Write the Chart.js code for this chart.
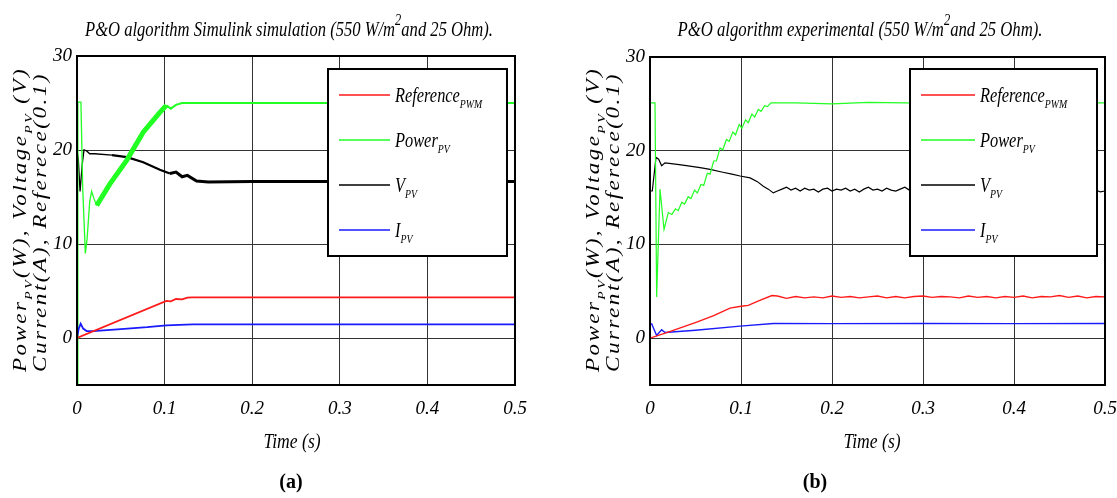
<!DOCTYPE html>
<html><head><meta charset="utf-8">
<script src="https://cdn.jsdelivr.net/npm/chart.js@4.4.1/dist/chart.umd.min.js"></script>
<style>
html,body{margin:0;padding:0;background:#fff;}
#wrap{position:relative;width:1117px;height:498px;overflow:hidden;background:#fff}
.pane{position:absolute;top:0;height:498px}
canvas{display:block}
</style></head><body>
<div id="wrap">
<div class="pane" style="left:0;width:558px"><canvas id="ca" width="558" height="498"></canvas></div>
<div class="pane" style="left:558px;width:559px"><canvas id="cb" width="559" height="498"></canvas></div>
</div>
<script>
// ---------- axis ticks ----------
const yTickValues = [0, 10, 20, 30];
const xTickStep = 0.1;

// ---------- (a) Simulink simulation ----------
const simRefT = [0, 0.102, 0.107, 0.113, 0.12, 0.126, 0.132, 0.5];
const simRefV = [0, 3.95, 3.9, 4.15, 4.1, 4.3, 4.33, 4.33];
const simPowT = [0, 0.001, 0.0045, 0.0065, 0.0095, 0.0115, 0.0145, 0.0167, 0.0195, 0.0225, 0.0376, 0.0567, 0.0756, 0.0946, 0.102, 0.107, 0.113, 0.12, 0.13, 0.2, 0.3, 0.4, 0.5];
const simPowV = [-5, 25.1, 25.1, 16.0, 9.0, 10.5, 14.5, 15.6, 14.8, 14.1, 16.4, 18.9, 21.9, 24.0, 24.75, 24.4, 24.8, 25.0, 25.0, 25.0, 25.0, 25.0, 25.0];
const simVolT = [0, 0.0015, 0.0035, 0.006, 0.008, 0.011, 0.0145, 0.02, 0.04, 0.057, 0.0756, 0.0946, 0.106, 0.113, 0.12, 0.126, 0.1365, 0.15, 0.2, 0.3, 0.4, 0.5];
const simVolV = [20, 19.0, 15.6, 18.5, 20.0, 19.9, 19.6, 19.6, 19.45, 19.25, 18.7, 17.9, 17.5, 17.65, 17.15, 17.3, 16.7, 16.6, 16.65, 16.65, 16.65, 16.65];
const simCurT = [0, 0.002, 0.0042, 0.007, 0.011, 0.0186, 0.05, 0.08, 0.102, 0.132, 0.5];
const simCurV = [0, 1.0, 1.53, 1.0, 0.74, 0.74, 0.95, 1.15, 1.35, 1.46, 1.46];

// ---------- (b) experimental ----------
const expRefT = [0, 0.02, 0.0513, 0.07, 0.0879, 0.1, 0.108, 0.12, 0.134, 0.14, 0.15, 0.16, 0.17, 0.18, 0.19, 0.2, 0.21, 0.22, 0.23, 0.24, 0.25, 0.26, 0.27, 0.28, 0.29, 0.3, 0.31, 0.32, 0.33, 0.34, 0.35, 0.36, 0.37, 0.38, 0.39, 0.4, 0.41, 0.42, 0.43, 0.44, 0.45, 0.46, 0.47, 0.48, 0.49, 0.5];
const expRefV = [0, 0.65, 1.7, 2.4, 3.2, 3.4, 3.5, 4.0, 4.55, 4.5, 4.25, 4.45, 4.3, 4.4, 4.3, 4.5, 4.35, 4.45, 4.3, 4.4, 4.5, 4.3, 4.45, 4.3, 4.45, 4.5, 4.35, 4.45, 4.4, 4.3, 4.5, 4.35, 4.45, 4.3, 4.45, 4.35, 4.5, 4.3, 4.45, 4.4, 4.55, 4.35, 4.5, 4.3, 4.45, 4.4];
const expPowT = [0, 0.0055, 0.0073, 0.011, 0.0154, 0.0201, 0.024, 0.028, 0.031, 0.035, 0.038, 0.042, 0.045, 0.049, 0.052, 0.056, 0.059, 0.063, 0.066, 0.070, 0.073, 0.077, 0.080, 0.084, 0.087, 0.091, 0.094, 0.098, 0.101, 0.105, 0.108, 0.112, 0.115, 0.119, 0.122, 0.126, 0.129, 0.133, 0.16, 0.2, 0.24, 0.28, 0.32, 0.36, 0.4, 0.44, 0.48, 0.5];
const expPowV = [25.1, 25.1, 4.4, 15.9, 11.6, 13.4, 13.2, 13.8, 13.6, 14.5, 14.3, 15.1, 14.9, 15.8, 15.5, 16.4, 16.3, 17.6, 17.5, 18.9, 18.9, 20.3, 20.1, 21.2, 21.0, 22.0, 21.7, 22.8, 22.4, 23.3, 23.0, 23.9, 23.6, 24.4, 24.2, 24.8, 24.7, 25.1, 25.1, 25.0, 25.15, 25.1, 25.05, 25.15, 25.1, 25.0, 25.1, 25.1];
const expVolT = [0, 0.0025, 0.0066, 0.0095, 0.0128, 0.0165, 0.03, 0.04, 0.055, 0.066, 0.08, 0.09, 0.099, 0.11, 0.118, 0.1245, 0.13, 0.1355, 0.14, 0.145, 0.15, 0.155, 0.16, 0.165, 0.17, 0.175, 0.18, 0.185, 0.19, 0.195, 0.2, 0.205, 0.21, 0.215, 0.22, 0.225, 0.23, 0.235, 0.24, 0.245, 0.25, 0.255, 0.26, 0.265, 0.27, 0.275, 0.28, 0.285, 0.29, 0.295, 0.3, 0.305, 0.31, 0.315, 0.32, 0.325, 0.33, 0.335, 0.34, 0.345, 0.35, 0.355, 0.36, 0.365, 0.37, 0.375, 0.38, 0.385, 0.39, 0.395, 0.4, 0.405, 0.41, 0.415, 0.42, 0.425, 0.43, 0.435, 0.44, 0.445, 0.45, 0.455, 0.46, 0.465, 0.47, 0.475, 0.48, 0.485, 0.49, 0.495, 0.5];
const expVolV = [15.7, 15.7, 19.3, 19.1, 18.4, 18.7, 18.55, 18.4, 18.2, 18.0, 17.7, 17.5, 17.3, 17.1, 16.7, 16.2, 15.9, 15.5, 15.7, 15.9, 16.1, 15.8, 16.0, 15.7, 16.0, 15.8, 15.9, 15.6, 15.9, 16.0, 15.7, 15.9, 15.8, 16.0, 15.7, 15.9, 15.6, 15.9, 16.1, 15.8, 15.9, 15.7, 16.0, 15.8, 15.7, 15.9, 16.1, 15.8, 15.7, 15.9, 15.8, 16.0, 15.7, 15.9, 16.1, 15.8, 16.0, 15.7, 15.9, 15.8, 16.0, 15.7, 15.9, 16.1, 15.8, 15.9, 15.7, 16.0, 16.2, 15.9, 15.8, 16.0, 15.7, 15.9, 15.8, 16.1, 15.9, 15.7, 16.0, 16.2, 15.9, 15.8, 16.1, 15.9, 15.7, 16.0, 16.2, 15.9, 15.8, 15.6, 15.7];
const expCurT = [0, 0.0018, 0.0073, 0.0128, 0.0165, 0.05, 0.099, 0.1355, 0.2, 0.3, 0.4, 0.5];
const expCurV = [1.5, 1.53, 0.29, 0.89, 0.6, 0.85, 1.28, 1.56, 1.55, 1.57, 1.55, 1.56];

// ---------- text ----------
const legendLabels = [
  [{t:'Reference'},{t:'PWM',k:'sub'}],
  [{t:'Power'},{t:'PV',k:'sub'}],
  [{t:'V'},{t:'PV',k:'sub'}],
  [{t:'I'},{t:'PV',k:'sub'}]
];
const seriesColors = ['#ff1a1a', '#22ff22', '#000000', '#1a1aff'];
const yLabel1 = [{t:'Power'},{t:'PV',k:'sub'},{t:'(W), Voltage'},{t:'PV',k:'sub'},{t:' (V)'}];
const yLabel2 = [{t:'Current(A), Referece(0.1)'}];
const xLabel = [{t:'Time (s)'}];
const titleA = [{t:'P&O algorithm Simulink simulation (550 W/m'},{t:'2',k:'sup'},{t:'and 25 Ohm).'}];
const titleB = [{t:'P&O algorithm experimental (550 W/m'},{t:'2',k:'sup'},{t:'and 25 Ohm).'}];

const SERIF = '"Liberation Serif", "Times New Roman", serif';

function pts(T, V){ return T.map((t,i)=>({x:t, y:V[i]})); }

function drawRich(ctx, parts, o){
  ctx.save();
  ctx.translate(o.x, o.y);
  if (o.rot) ctx.rotate(o.rot);
  ctx.letterSpacing = (o.ls||0) + 'px';
  const style = (o.bold ? 'bold ' : '') + (o.italic === false ? '' : 'italic ');
  const sizeFor = k => k === 'sub' ? o.fs*0.6 : (k === 'sup' ? o.fs*0.75 : o.fs);
  const fontFor = k => style + sizeFor(k).toFixed(1) + 'px ' + SERIF;
  let nat = 0;
  for (const p of parts){ ctx.font = fontFor(p.k); nat += ctx.measureText(p.t).width; }
  const sx = o.target ? o.target/nat : (o.sx || 1);
  ctx.scale(sx, 1);
  let x = o.align === 'center' ? -nat/2 : (o.align === 'right' ? -nat : 0);
  ctx.fillStyle = '#000';
  ctx.textAlign = 'left';
  ctx.textBaseline = 'alphabetic';
  for (const p of parts){
    ctx.font = fontFor(p.k);
    const dy = p.k === 'sub' ? o.fs*0.3 : (p.k === 'sup' ? -o.fs*0.5 : 0);
    ctx.fillText(p.t, x, dy);
    x += ctx.measureText(p.t).width;
  }
  ctx.restore();
}

const decor = {
  id: 'decor',
  afterDatasetsDraw(chart){
    const c = chart.ctx, a = chart.chartArea, P = chart.options.plugins.decor;
    c.save();
    c.strokeStyle = '#000'; c.lineWidth = 2;
    c.strokeRect(a.left, a.top, a.right - a.left, a.bottom - a.top);
    const L = P.legend;
    c.fillStyle = '#fff';
    c.fillRect(L.x, L.y, L.w, L.h);
    c.lineWidth = 2; c.strokeStyle = '#000';
    c.strokeRect(L.x, L.y, L.w, L.h);
    legendLabels.forEach((lab, i) => {
      const ry = L.y + 26 + 45*i;
      c.beginPath();
      c.strokeStyle = seriesColors[i]; c.lineWidth = 1.5;
      c.moveTo(L.x + 11, ry); c.lineTo(L.x + 11 + L.line, ry); c.stroke();
      drawRich(c, lab, {x: L.x + L.line + 16, y: ry + 7, fs: 21, sx: 0.78});
    });
    c.restore();
  },
  afterDraw(chart){
    const c = chart.ctx, a = chart.chartArea, P = chart.options.plugins.decor;
    drawRich(c, P.title, {x: P.titleX, y: 36, fs: 22, target: P.titleW, align: 'center'});
    drawRich(c, xLabel, {x: P.timeX, y: 448, fs: 22, sx: 0.8, align: 'center'});
    drawRich(c, [{t: P.letter}], {x: P.letterX, y: 488, fs: 20, bold: true, italic: false, align: 'center'});
    drawRich(c, yLabel1, {x: a.left + P.yl1, y: 372, fs: 19, ls: 2, target: 305, rot: -Math.PI/2});
    drawRich(c, yLabel2, {x: a.left + P.yl2, y: 372, fs: 19, ls: 2, target: 300, rot: -Math.PI/2});
  }
};

function makeChart(id, sets, lay, deco){
  const tickFont = {family: SERIF, size: 19, style: 'italic'};
  return new Chart(document.getElementById(id), {
    type: 'line',
    data: {datasets: sets},
    options: {
      responsive: false, animation: false, devicePixelRatio: 1,
      layout: {padding: {left: 0, top: lay.top, right: lay.right, bottom: 0}},
      plugins: {legend: {display: false}, tooltip: {enabled: false}, decor: deco},
      elements: {point: {radius: 0}, line: {tension: 0}},
      scales: {
        x: {
          type: 'linear', min: 0, max: 0.5,
          ticks: {stepSize: xTickStep, color: '#000', font: tickFont, padding: 13, maxRotation: 0,
                  callback: v => Math.abs(v) < 1e-9 ? '0' : (+v).toFixed(1)},
          grid: {color: '#333', lineWidth: 1, drawTicks: false},
          border: {color: '#000', width: 2},
          afterFit: s => { s.height = 113; s.paddingLeft = 0; s.paddingRight = 0; }
        },
        y: {
          type: 'linear', min: -5, max: 30,
          afterBuildTicks: s => { s.ticks = yTickValues.map(v => ({value: v})); },
          ticks: {color: '#000', font: tickFont, padding: 5},
          grid: {color: '#333', lineWidth: 1, drawTicks: false},
          border: {color: '#000', width: 2},
          afterFit: s => { s.width = lay.yw; s.paddingTop = 0; s.paddingBottom = 0; }
        }
      }
    },
    plugins: [decor]
  });
}

function ds(T, V, color, w, seg){
  const d = {data: pts(T, V), borderColor: color, borderWidth: w, pointRadius: 0, fill: false, tension: 0};
  if (seg) d.segment = {borderWidth: seg};
  return d;
}

makeChart('ca', [
  ds(simRefT, simRefV, seriesColors[0], 1.8),
  ds(simCurT, simCurV, seriesColors[3], 1.8),
  ds(simPowT, simPowV, seriesColors[1], 1.3, c => (c.p0.parsed.x >= 0.022 && c.p1.parsed.x <= 0.103) ? 5 : (c.p0.parsed.x >= 0.1 ? 2 : 1.3)),
  ds(simVolT, simVolV, seriesColors[2], 1.3, c => c.p0.parsed.x >= 0.1 ? 3 : (c.p0.parsed.x >= 0.04 ? 2.3 : 1.3))
], {top: 56, right: 43, yw: 77}, {
  title: titleA, titleX: 289, titleW: 408, timeX: 292, letter: '(a)', letterX: 291,
  yl1: -51, yl2: -31,
  legend: {x: 328, y: 69, w: 179, h: 187, line: 51}
});

makeChart('cb', [
  ds(expRefT, expRefV, seriesColors[0], 1.4),
  ds(expCurT, expCurV, seriesColors[3], 1.4),
  ds(expPowT, expPowV, seriesColors[1], 1.2),
  ds(expVolT, expVolV, seriesColors[2], 1.2)
], {top: 57, right: 12, yw: 92}, {
  title: titleB, titleX: 302, titleW: 365, timeX: 314, letter: '(b)', letterX: 257,
  yl1: -51, yl2: -31,
  legend: {x: 352, y: 69, w: 187, h: 187, line: 54}
});
</script>
</body></html>
